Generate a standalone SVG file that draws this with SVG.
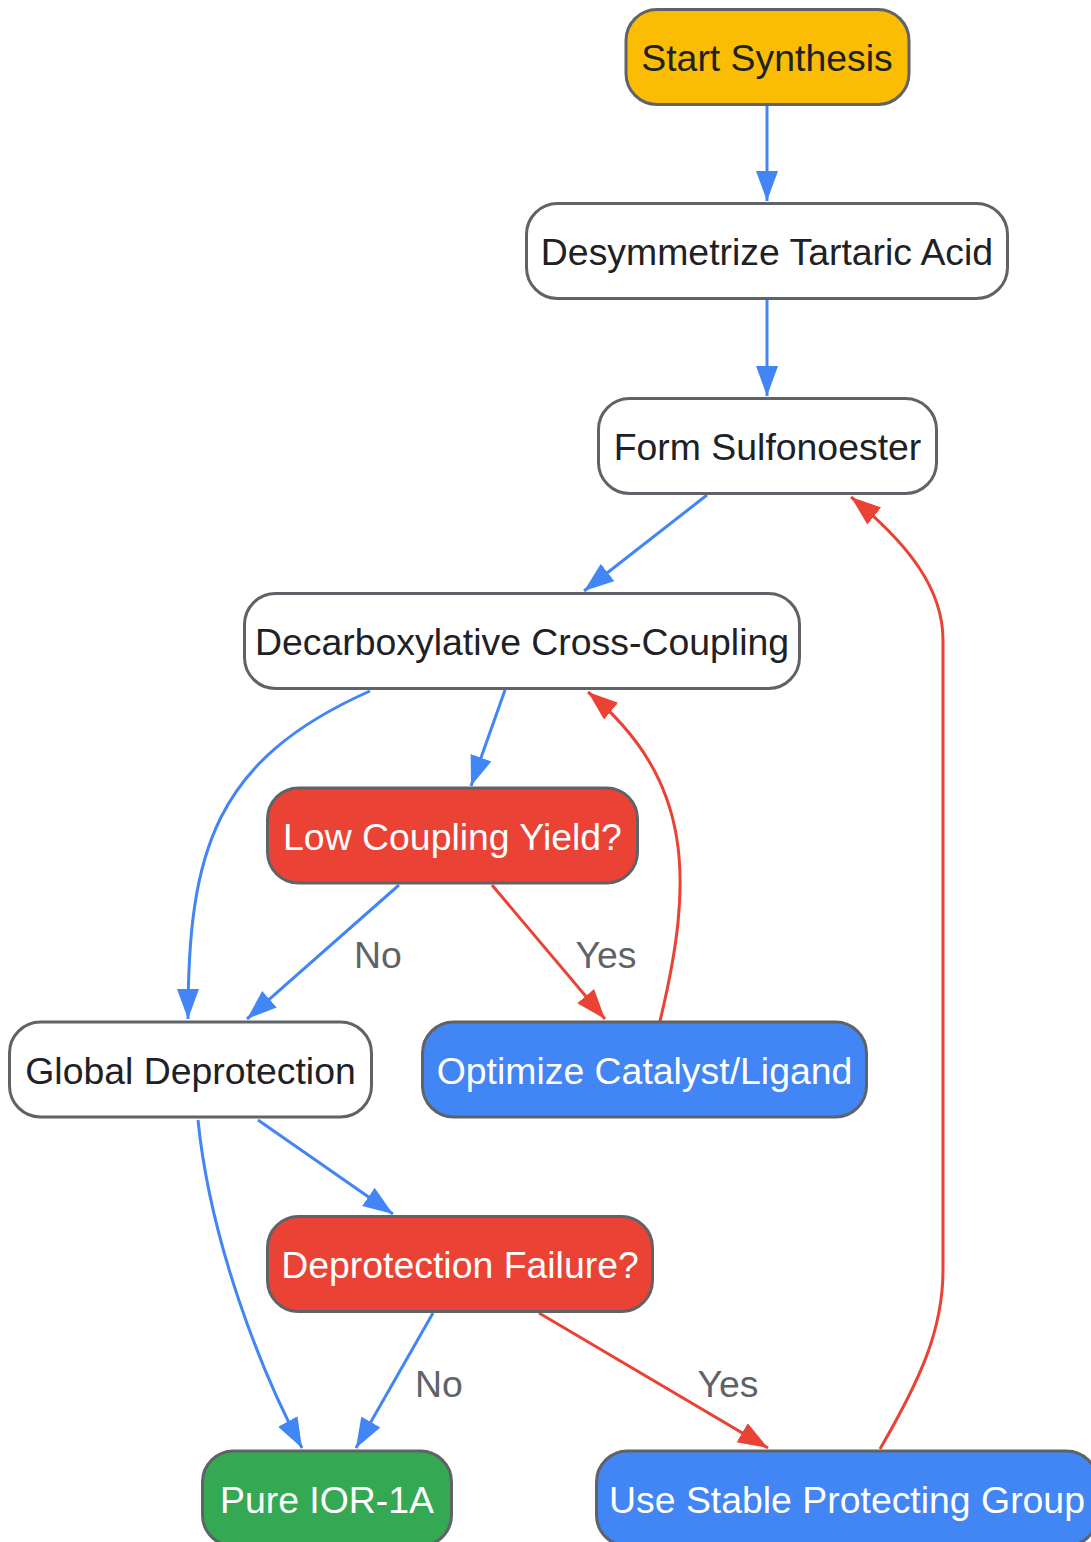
<svg xmlns="http://www.w3.org/2000/svg" width="1091" height="1542" viewBox="0 0 1091 1542">
<style>
.n rect{stroke:#5f6368;stroke-width:3}
.n text{font-family:"Liberation Sans",Arial,sans-serif;font-size:37.4px;text-anchor:middle}
.dark{fill:#202124}
.light{fill:#ffffff}
.e{fill:none;stroke-width:3}
.b{stroke:#4285f4}
.r{stroke:#ea4335}
.lbl{font-family:"Liberation Sans",Arial,sans-serif;font-size:37.4px;fill:#5f6368;text-anchor:middle}
</style>
<defs>
<marker id="ab" markerUnits="userSpaceOnUse" markerWidth="32" markerHeight="24" refX="30" refY="11" orient="auto">
<path d="M0,0 L30,11 L0,22 Z" fill="#4285f4"/>
</marker>
<marker id="ar" markerUnits="userSpaceOnUse" markerWidth="32" markerHeight="24" refX="30" refY="11" orient="auto">
<path d="M0,0 L30,11 L0,22 Z" fill="#ea4335"/>
</marker>
</defs>
<g id="edges">
<path class="e b" d="M767,106 L767,201" marker-end="url(#ab)"/>
<path class="e b" d="M767,300 L767,396" marker-end="url(#ab)"/>
<path class="e b" d="M707,495 L584,591" marker-end="url(#ab)"/>
<path class="e b" d="M505,690 L471,786" marker-end="url(#ab)"/>
<path class="e b" d="M370,691 C215,760 188,850 188,1019" marker-end="url(#ab)"/>
<path class="e b" d="M399,885 L247,1019" marker-end="url(#ab)"/>
<path class="e r" d="M492,885 L605,1019" marker-end="url(#ar)"/>
<path class="e r" d="M660,1021 C694,880 694,780 588,692" marker-end="url(#ar)"/>
<path class="e b" d="M258,1120 L393,1214" marker-end="url(#ab)"/>
<path class="e b" d="M198,1120 C210,1240 260,1370 302,1448" marker-end="url(#ab)"/>
<path class="e b" d="M433,1313 L356,1448" marker-end="url(#ab)"/>
<path class="e r" d="M539,1313 L768,1448" marker-end="url(#ar)"/>
<path class="e r" d="M880,1449 C920,1380 943,1330 943,1270 L943,640 C943,590 910,545 851,497" marker-end="url(#ar)"/>
<text class="lbl" x="378" y="968">No</text>
<text class="lbl" x="606" y="968">Yes</text>
<text class="lbl" x="439" y="1397">No</text>
<text class="lbl" x="728" y="1397">Yes</text>
</g>
<g id="start" class="n"><rect x="626" y="9.5" width="283" height="95" rx="31" fill="#fbbc04"/><text class="dark" x="767" y="71">Start Synthesis</text></g>
<g id="desym" class="n"><rect x="526.5" y="203.5" width="481" height="95" rx="31" fill="#ffffff"/><text class="dark" x="767" y="265">Desymmetrize Tartaric Acid</text></g>
<g id="sulfono" class="n"><rect x="598.5" y="398.5" width="338" height="95" rx="31" fill="#ffffff"/><text class="dark" x="767.5" y="460">Form Sulfonoester</text></g>
<g id="decarb" class="n"><rect x="244.5" y="593.5" width="555" height="95" rx="31" fill="#ffffff"/><text class="dark" x="522" y="655">Decarboxylative Cross-Coupling</text></g>
<g id="lowyield" class="n"><rect x="267.5" y="788" width="370" height="95" rx="31" fill="#ea4335"/><text class="light" x="452.5" y="850">Low Coupling Yield?</text></g>
<g id="global" class="n"><rect x="9.5" y="1022" width="362" height="95" rx="31" fill="#ffffff"/><text class="dark" x="190.5" y="1084">Global Deprotection</text></g>
<g id="optimize" class="n"><rect x="422.5" y="1022" width="444" height="95" rx="31" fill="#4285f4"/><text class="light" x="644.5" y="1084">Optimize Catalyst/Ligand</text></g>
<g id="depfail" class="n"><rect x="267.5" y="1216.5" width="385" height="95" rx="31" fill="#ea4335"/><text class="light" x="460" y="1278">Deprotection Failure?</text></g>
<g id="pure" class="n"><rect x="202.5" y="1451" width="249" height="95" rx="31" fill="#34a853"/><text class="light" x="327" y="1513">Pure IOR-1A</text></g>
<g id="stable" class="n"><rect x="596.5" y="1451" width="501" height="95" rx="31" fill="#4285f4"/><text class="light" x="847" y="1513">Use Stable Protecting Group</text></g>
</svg>
